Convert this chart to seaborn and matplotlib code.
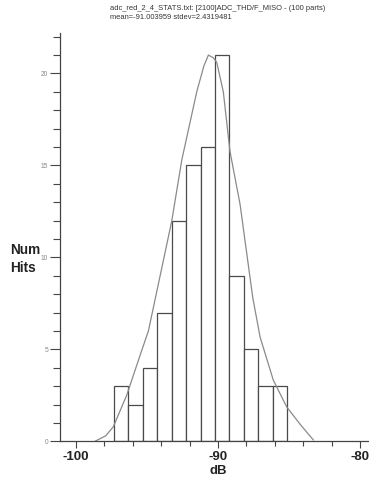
import matplotlib
matplotlib.use("Agg")
import matplotlib.pyplot as plt
import seaborn as sns
import numpy as np
import pandas as pd
from matplotlib.ticker import MultipleLocator

# ---- data ----
bin_edges = [-97.32, -96.31, -95.30, -94.27, -93.26, -92.25, -91.22,
             -90.21, -89.20, -88.19, -87.16, -86.15, -85.12]
counts = [3, 2, 4, 7, 12, 15, 16, 21, 9, 5, 3, 3]

curve_x = [-98.66, -97.9, -97.37, -96.43, -95.84, -95.37, -94.9, -93.26,
           -92.55, -91.5, -91.0, -90.68, -90.33, -90.09, -89.63, -89.16,
           -88.45, -87.56, -87.04, -86.11, -85.17, -84.2, -83.29]
curve_y = [0.0, 0.3, 0.79, 2.5, 3.86, 4.94, 6.0, 11.97,
           15.3, 19.0, 20.4, 21.0, 20.85, 20.6, 19.0, 15.76,
           12.88, 7.82, 5.66, 3.32, 1.87, 0.9, 0.07]

x_major = [-100, -90, -80]
y_major = [0, 5, 10, 15, 20]
title_lines = ["adc_red_2_4_STATS.txt: [2100]ADC_THD/F_MISO - (100 parts)",
               "mean=-91.003959 stdev=2.4319481"]

# ---- build frames ----
centers = [(bin_edges[i] + bin_edges[i + 1]) / 2 for i in range(len(counts))]
hist_df = pd.DataFrame({"dB": centers, "hits": counts})
curve_df = pd.DataFrame({"x": curve_x, "y": curve_y})

sns.set_style("white")
plt.rcParams["font.family"] = ["Liberation Sans", "DejaVu Sans"]

fig = plt.figure(figsize=(3.69, 4.80), dpi=100)
ax = fig.add_axes([60 / 369, 1 - 441.3 / 480, 308 / 369, (441.3 - 33) / 480])

sns.histplot(data=hist_df, x="dB", weights="hits", bins=bin_edges,
             color="white", edgecolor="#4a4a4a", linewidth=0.9, alpha=1,
             ax=ax)
sns.lineplot(data=curve_df, x="x", y="y", sort=False, color="#8a8a8a",
             linewidth=0.9, ax=ax)

ax.set_xlim(-101.12, -79.45)
ax.set_ylim(0, 22.2)

ax.set_xticks(x_major)
ax.set_xticklabels([str(v) for v in x_major], fontsize=9.5,
                   fontweight="bold", color="#222222")
ax.xaxis.set_minor_locator(MultipleLocator(2))
ax.set_yticks(y_major)
ax.set_yticklabels([str(v) for v in y_major], fontsize=4.8, color="#888888")
ax.yaxis.set_minor_locator(MultipleLocator(1))

ax.tick_params(axis="x", which="major", direction="out", length=5,
               width=0.8, color="#444444", pad=2, bottom=True)
ax.tick_params(axis="x", which="minor", direction="out", length=3.5,
               width=0.8, color="#444444", bottom=True)
ax.tick_params(axis="y", which="major", direction="out", length=7,
               width=0.8, color="#444444", pad=1.5, left=True)
ax.tick_params(axis="y", which="minor", direction="out", length=5,
               width=0.8, color="#444444", left=True)

for s in ["top", "right"]:
    ax.spines[s].set_visible(False)
for s in ["left", "bottom"]:
    ax.spines[s].set_color("#444444")
    ax.spines[s].set_linewidth(0.9)

ax.set_xlabel("")
ax.set_ylabel("")
fig.text(218 / 369, 1 - 471 / 480, "dB", fontsize=9.5, fontweight="bold",
         ha="center", va="center", color="#222222")
fig.text(10 / 369, 1 - 259 / 480, "Num\nHits", fontsize=9.8,
         fontweight="bold", ha="left", va="center", color="#222222",
         linespacing=1.3)

fig.text(110 / 369, 1 - 9 / 480, title_lines[0], fontsize=5.4,
         ha="left", va="center", color="#333333")
fig.text(110 / 369, 1 - 17.5 / 480, title_lines[1], fontsize=5.4,
         ha="left", va="center", color="#333333")

fig.savefig("out.png", dpi=100)
